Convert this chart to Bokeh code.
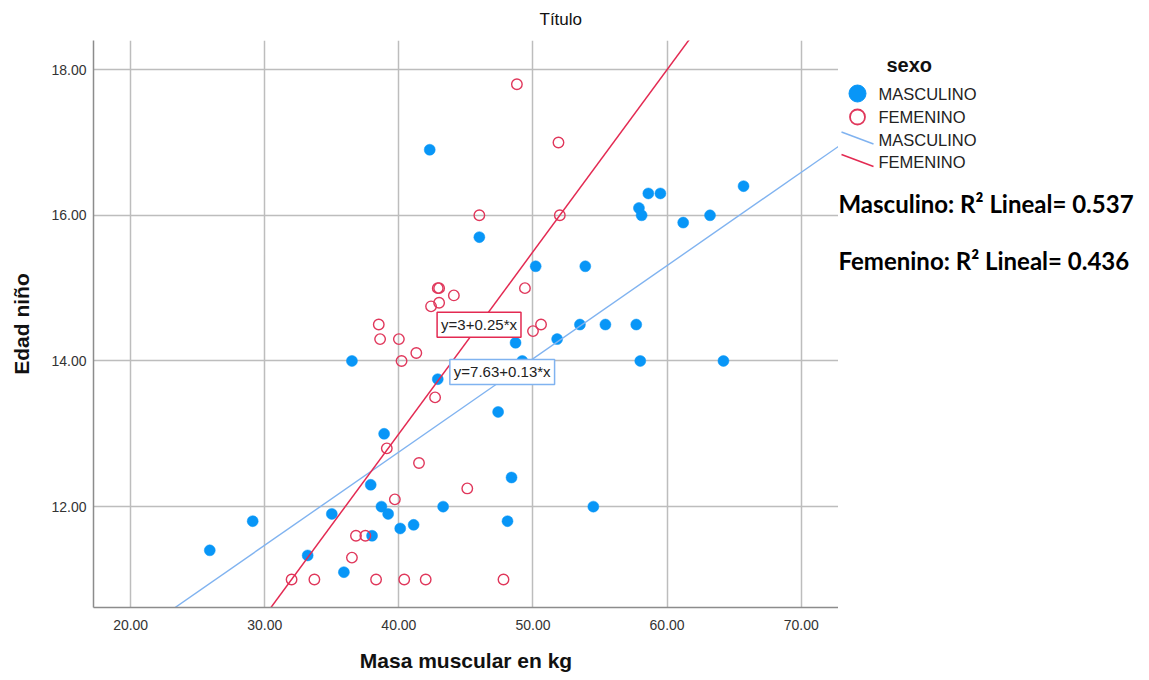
from bokeh.plotting import figure
from bokeh.layouts import row
from bokeh.models import Range1d, FixedTicker, NumeralTickFormatter, Label
from bokeh.core.properties import value
from bokeh.embed import file_html
from bokeh.resources import INLINE

# ---- data ----
male_x = [25.9, 29.1, 33.2, 35.0, 35.9, 36.5, 37.9, 38.0, 38.7, 39.2, 38.9, 40.1, 41.1,
          43.3, 42.9, 42.3, 46.0, 50.2, 53.9, 47.4, 48.4, 48.1, 48.7, 49.2, 51.8, 53.5,
          55.4, 57.7, 58.0, 64.2, 54.5, 58.6, 59.5, 57.9, 58.1, 61.2, 63.2, 65.7]
male_y = [11.4, 11.8, 11.33, 11.9, 11.1, 14.0, 12.3, 11.6, 12.0, 11.9, 13.0, 11.7, 11.75,
          12.0, 13.75, 16.9, 15.7, 15.3, 15.3, 13.3, 12.4, 11.8, 14.25, 14.0, 14.3, 14.5,
          14.5, 14.5, 14.0, 14.0, 12.0, 16.3, 16.3, 16.1, 16.0, 15.9, 16.0, 16.4]

female_x = [32.0, 33.7, 38.3, 40.4, 42.0, 47.8, 36.5, 36.8, 37.5, 39.7, 41.5, 39.1, 45.1,
            42.7, 40.2, 41.3, 38.6, 40.0, 38.5, 50.0, 50.6, 42.9, 43.0, 44.1, 43.0, 42.4,
            48.8, 51.9, 46.0, 52.0, 49.4]
female_y = [11.0, 11.0, 11.0, 11.0, 11.0, 11.0, 11.3, 11.6, 11.6, 12.1, 12.6, 12.8, 12.25,
            13.5, 14.0, 14.11, 14.3, 14.3, 14.5, 14.41, 14.5, 15.0, 15.0, 14.9, 14.8, 14.75,
            17.8, 17.0, 16.0, 16.0, 15.0]

# fitted lines (coefficients as shown/read in the chart)
male_fit = (7.63, 0.128)
female_fit = (3.0, 0.25)
male_eq = "y=7.63+0.13*x"
female_eq = "y=3+0.25*x"
r2_texts = ["Masculino: R\u00b2 Lineal= 0.537", "Femenino: R\u00b2 Lineal= 0.436"]
legend_title = "sexo"
legend_labels = ["MASCULINO", "FEMENINO", "MASCULINO", "FEMENINO"]

x_ticks = [20, 30, 40, 50, 60, 70]
y_ticks = [12, 14, 16, 18]
X0, X1 = 17.23, 72.78
Y0, Y1 = 10.615, 18.40

BLUE = "#0896f7"
RED = "#e0375b"
BLUE_LINE = "#80b3f0"
RED_LINE = "#e32a52"
FONT = "Liberation Sans"

# layout of the canvas (pixels)
W, H = 1149, 680
FRAME_L, FRAME_R, FRAME_T, FRAME_B = 93, 838, 40, 607

p = figure(width=FRAME_R, height=H, output_backend="svg", toolbar_location=None,
           x_range=Range1d(X0, X1), y_range=Range1d(Y0, Y1),
           min_border_left=FRAME_L, min_border_right=0, min_border_top=FRAME_T,
           min_border_bottom=H - FRAME_B)
p.outline_line_color = None
p.background_fill_color = "white"

p.title.text = "T\u00edtulo"
p.title.text_font = FONT
p.title.text_font_style = "normal"
p.title.text_font_size = "17px"
p.title.text_color = "#111111"
p.title.align = "left"
p.title.offset = 446
p.title.standoff = 19
p.title.vertical_align = "top"

for ax in (p.xaxis[0], p.yaxis[0]):
    ax.major_tick_line_color = None
    ax.minor_tick_line_color = None
    ax.axis_line_color = "#8c8c8c"
    ax.axis_line_width = 1.5
    ax.major_label_text_font = FONT
    ax.major_label_text_font_size = "14px"
    ax.major_label_text_color = "#333333"
    ax.axis_label_text_font = FONT
    ax.axis_label_text_font_style = "bold"
    ax.axis_label_text_font_size = "21px"
    ax.axis_label_text_color = "#111111"
    ax.formatter = NumeralTickFormatter(format="0.00")

p.xaxis.ticker = FixedTicker(ticks=x_ticks)
p.yaxis.ticker = FixedTicker(ticks=y_ticks)
p.xaxis.axis_label = "Masa muscular en kg"
p.yaxis.axis_label = "Edad ni\u00f1o"
p.xaxis.major_label_standoff = 6
p.xaxis.axis_label_standoff = 16
p.yaxis.major_label_standoff = 1
p.yaxis.axis_label_standoff = 15

p.grid.grid_line_color = "#bdbdbd"
p.grid.grid_line_width = 1.5
p.xgrid.ticker = FixedTicker(ticks=x_ticks)
p.ygrid.ticker = FixedTicker(ticks=y_ticks)

p.scatter(male_x, male_y, size=11, marker="circle", fill_color=BLUE,
          line_color=BLUE, line_width=0.5)
p.scatter(female_x, female_y, size=10.5, marker="circle", fill_color=None,
          line_color=RED, line_width=1.4)

xs = [X0, X1]
p.line(xs, [male_fit[0] + male_fit[1] * x for x in xs], line_color=BLUE_LINE,
       line_width=1.4)
p.line(xs, [female_fit[0] + female_fit[1] * x for x in xs], line_color=RED_LINE,
       line_width=1.5)

# equation boxes
p.add_layout(Label(x=42.85, y=14.497, text=female_eq, text_align="left",
                   text_baseline="middle", text_font=FONT, text_font_size="15px",
                   text_color="#222222", background_fill_color="white",
                   border_line_color=RED_LINE, border_line_width=1.5, padding=4))
p.add_layout(Label(x=43.8, y=13.85, text=male_eq, text_align="left",
                   text_baseline="middle", text_font=FONT, text_font_size="15px",
                   text_color="#222222", background_fill_color="white",
                   border_line_color=BLUE_LINE, border_line_width=1.5, padding=4))

# ---- right panel: legend and R^2 notes (coordinates = canvas pixels) ----
p2 = figure(width=W - FRAME_R, height=H, output_backend="svg", toolbar_location=None,
            x_range=Range1d(FRAME_R, W), y_range=Range1d(FRAME_B, FRAME_T),
            min_border_left=0, min_border_right=0, min_border_top=FRAME_T,
            min_border_bottom=H - FRAME_B)
p2.axis.visible = False
p2.grid.visible = False
p2.outline_line_color = None

# legend: title, two marker keys, two line keys
LEG_ROWS = [93, 116.5, 139, 161.5]
LEG_X_TEXT = 878
p2.text(x=[886], y=[64], text=[legend_title], text_align="left", text_baseline="middle",
        text_font=value(FONT), text_font_style="bold", text_font_size="20px",
        text_color="#111111")
p2.scatter(x=[857], y=[LEG_ROWS[0]], size=17, marker="circle", fill_color=BLUE,
           line_color=BLUE)
p2.scatter(x=[857], y=[LEG_ROWS[1]], size=15, marker="circle", fill_color=None,
           line_color=RED, line_width=1.8)
p2.segment(x0=[841, 841], y0=[LEG_ROWS[2] - 7.5, LEG_ROWS[3] - 7.5],
           x1=[873, 873], y1=[LEG_ROWS[2] + 4.5, LEG_ROWS[3] + 4.5],
           line_color=[BLUE_LINE, RED_LINE], line_width=1.5)
p2.text(x=[LEG_X_TEXT] * 4, y=LEG_ROWS, text=legend_labels, text_align="left",
        text_baseline="middle", text_font=value(FONT), text_font_size="16.5px",
        text_color="#222222")

p2.text(x=[838, 838], y=[203, 260], text=r2_texts, text_align="left",
        text_baseline="middle", text_font=value("Lato"), text_font_style="bold",
        text_font_size="24px", text_color="#000000")

open("out.html", "w").write(file_html(row(p, p2), INLINE))
